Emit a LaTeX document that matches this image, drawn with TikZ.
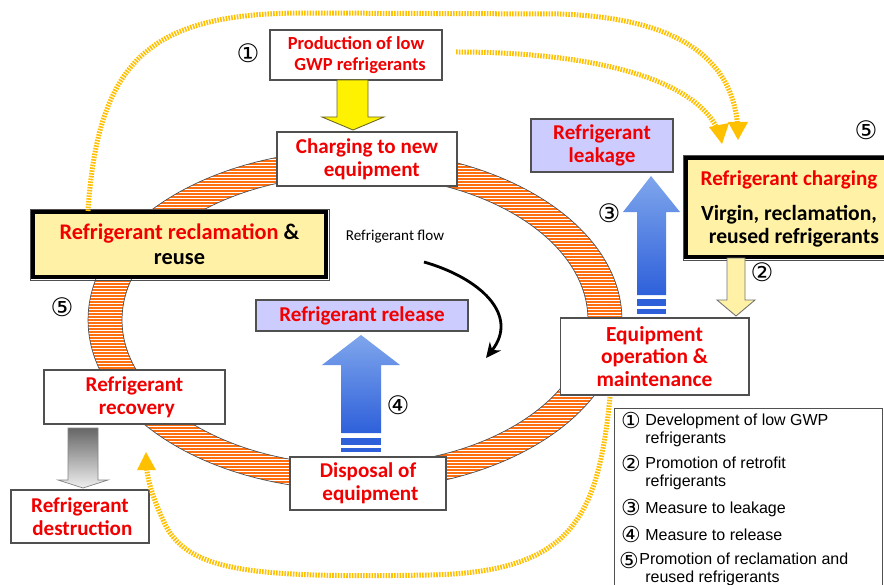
\documentclass[tikz,border=0pt]{standalone}
\usepackage{fontspec}
\setmainfont{Carlito}
\newfontfamily\legfont{Liberation Sans}
\newfontfamily\symfont{DejaVu Sans}
\usetikzlibrary{arrows.meta}
\definecolor{tred}{HTML}{F00000}
\definecolor{lav}{HTML}{CCCCFF}
\definecolor{lyel}{HTML}{FFF2A6}
\definecolor{gold}{HTML}{FFC000}
\definecolor{ringor}{HTML}{FF6F10}
\definecolor{bluelt}{HTML}{7FA6EC}
\definecolor{bluedk}{HTML}{2E60DA}
\definecolor{bord}{HTML}{505050}
\tikzset{
  box/.style={draw=bord, fill=white, line width=0.6pt, align=center, inner sep=0pt,
    font=\fontsize{12}{13.2}\selectfont\bfseries, text=tred},
  thickbox/.style={draw=black, line width=2pt, fill=lyel, align=center, inner sep=0pt},
  goldline/.style={draw=gold, line width=0.1cm, dash pattern=on 0.9pt off 0.7pt},
  num/.style={font=\symfont\fontsize{14.5}{16}\selectfont, inner sep=0pt},
  leg/.style={font=\legfont\fontsize{9.1}{9.8}\selectfont, anchor=base west, inner sep=0pt, align=left},
  legnum/.style={font=\symfont\fontsize{12.5}{13}\selectfont, inner sep=0pt},
  stripe/.style={draw=ringor, line width=0.034cm},
}
\begin{document}
\begin{tikzpicture}[x=0.02cm,y=-0.02cm]
\useasboundingbox (0,0) rectangle (884,584);
\fill[white] (0,0) rectangle (884,584);

% ring
\begin{scope}[even odd rule]
\clip (355,320) ellipse [x radius=5.34cm, y radius=3.4cm]
  (355,320) ellipse [x radius=4.66cm, y radius=2.9cm];
\fill[white] (80,140) rectangle (630,500);
\foreach \yy in {149,152,...,494} { \draw[stripe] (80,\yy) -- (630,\yy); }
\end{scope}
\draw[bord, line width=0.4pt] (355,320) ellipse [x radius=5.34cm, y radius=3.4cm];
\draw[bord, line width=0.4pt] (355,320) ellipse [x radius=4.66cm, y radius=2.9cm];

% boxes
\node[box, minimum width=3.44cm, minimum height=1.0cm, font=\fontsize{10.5}{11.8}\selectfont\bfseries] (prod) at (356,55) {Production of low\\ \ \ GWP refrigerants};
\node[box, minimum width=3.6cm, minimum height=1.08cm] (charge) at (367,159) {Charging to new\\ \ \ equipment};
\draw[bord, line width=0.5pt] (30,209) rectangle (329,280);
\node[thickbox, minimum width=5.86cm, minimum height=1.3cm, font=\fontsize{12.7}{14.2}\selectfont\bfseries] (recl) at (179.5,244.5) {{\color{tred}Refrigerant reclamation} \&\\ reuse};
\node[box, fill=lav, minimum width=4.24cm, minimum height=0.62cm] (release) at (362,315.5) {Refrigerant release};
\node[box, minimum width=3.12cm, minimum height=1.06cm] (disp) at (368,483.5) {Disposal of\\ \ equipment};
\node[box, minimum width=3.62cm, minimum height=1.08cm] (recov) at (134.5,397) {Refrigerant\\ \ recovery};
\node[box, minimum width=2.76cm, minimum height=1.06cm] (destr) at (80,516.5) {Refrigerant\\ \ destruction};
\node[box, fill=lav, minimum width=2.84cm, minimum height=1.06cm] (leak) at (602,145.5) {Refrigerant\\ leakage};
\draw[bord, line width=0.5pt] (683,155) rectangle (890,260);
\node[thickbox, minimum width=4.0cm, minimum height=1.98cm] (rch) at (786,207.5) {};
\node[text=tred, font=\fontsize{12}{13}\selectfont\bfseries] (rchT) at (789,180) {Refrigerant charging};
\node[font=\fontsize{12.3}{13}\selectfont\bfseries, align=center] (rchV) at (789,226) {Virgin, reclamation,\\ \ \ reused refrigerants};
\node[box, minimum width=3.78cm, minimum height=1.54cm, font=\fontsize{12.2}{13}\selectfont\bfseries] (equip) at (654.5,356.5) {Equipment\\ operation \&\\ maintenance};

% yellow arrow prod -> charge
\draw[fill=yellow, draw=olive!70!black, line width=0.5pt] (337,80)--(368,80)--(368,117)--(384,117)--(353,130)--(322,117)--(337,117)--cycle;
% arrow 2
\draw[fill=lyel, draw=bord!80, line width=0.5pt] (727,258)--(745,258)--(745,300)--(755,300)--(736,316)--(717,300)--(727,300)--cycle;
% arrow 3
\shade[top color=bluelt, bottom color=bluedk] (651,176)--(680,212)--(666,212)--(666,295)--(637,295)--(637,212)--(623,212)--cycle;
\fill[bluedk] (637,299) rectangle (666,306);
\fill[bluedk] (637,309) rectangle (666,314);
% arrow 4
\shade[top color=bluelt, bottom color=bluedk] (361,335)--(400,365)--(381,365)--(381,433)--(341,433)--(341,365)--(322,365)--cycle;
\fill[bluedk] (341,438) rectangle (381,445);
\fill[bluedk] (341,448) rectangle (381,452);
% gray arrow
\shade[top color=gray!80!black, bottom color=gray!12, draw=bord!70, line width=0.4pt] (68,428)--(98,428)--(98,480)--(108,480)--(83,488)--(58,480)--(68,480)--cycle;

% refrigerant flow
\node[font=\fontsize{8.6}{10}\selectfont] (flow) at (395,237) {Refrigerant flow};
\coordinate (fs) at (424,262);
\coordinate (fe) at (486,358);
\draw[line width=1.6pt, -{Stealth[length=0.3cm,width=0.28cm]}] (fs) .. controls (480,278) and (520,315) .. (fe);

% gold lines
\coordinate (aS) at (88,211);
\coordinate (aE) at (738,138);
\coordinate (bS) at (456,52);
\coordinate (bE) at (722,142);
\coordinate (cS) at (610,397);
\coordinate (cE) at (146,455);
\draw[goldline] (aS) .. controls (98,60) and (150,14) .. (300,13) -- (560,14) .. controls (680,18) and (736,60) .. ([yshift=0.1cm]aE);
\draw[goldline] (bS) .. controls (610,52) and (705,85) .. ([xshift=-0.03cm,yshift=0.1cm]bE);
\draw[goldline] (cS) .. controls (598,520) and (570,572) .. (430,575) .. controls (250,578) and (185,572) .. (163,520) .. controls (152,495) and (147,480) .. ([yshift=-0.1cm]cE);
\fill[gold] (738,140)--(728,122)--(748,122)--cycle;
\fill[gold] (722,144)--(709,127)--(729,123)--cycle;
\fill[gold] (146,452)--(137,470)--(156,470)--cycle;

% numbers
\node[num] (n1) at (248,53) {①};
\node[num] (n2) at (762,272) {②};
\node[num] (n3) at (609,213) {③};
\node[num] (n4) at (398,405) {④};
\node[num] (n5a) at (62,307) {⑤};
\node[num] (n5b) at (866,130) {⑤};

% legend
\draw[bord, fill=white, line width=0.5pt] (614,408) rectangle (882,600);
\node[legnum] (m1) at (631,420) {①};
\node[leg] (l1) at (645,443) {Development of low GWP\\refrigerants};
\node[legnum] (m2) at (631,463) {②};
\node[leg] (l2) at (645,486) {Promotion of retrofit\\refrigerants};
\node[legnum] (m3) at (631,507) {③};
\node[leg] (l3) at (645,513) {Measure to leakage};
\node[legnum] (m4) at (631,534) {④};
\node[leg] (l4) at (645,540) {Measure to release};
\node[legnum] (m5) at (629,560) {⑤};
\node[leg] (l5) at (639,582) {Promotion of reclamation and\\\hspace*{0.12cm}reused refrigerants};
\end{tikzpicture}
\end{document}
